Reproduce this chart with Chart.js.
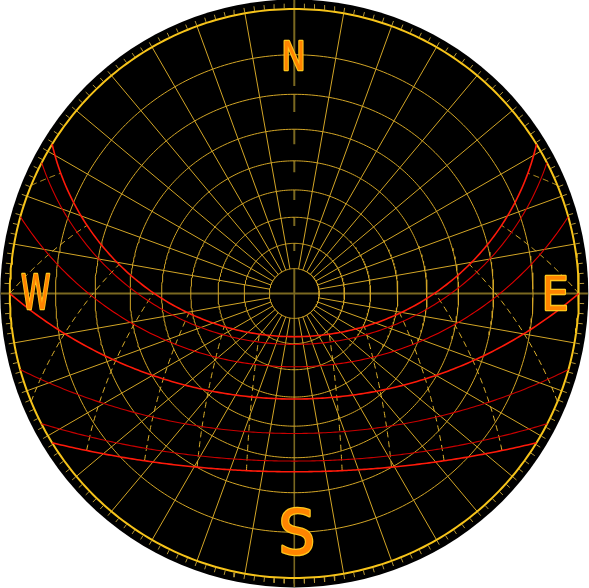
<!DOCTYPE html>
<html>
<head>
<meta charset="utf-8">
<title>Sun path diagram</title>
<script src="https://cdn.jsdelivr.net/npm/chart.js@4.4.1/dist/chart.umd.min.js"></script>
<style>
  html, body { margin: 0; padding: 0; background: #fff; }
  #wrap { width: 589px; height: 588px; }
</style>
</head>
<body>
<div id="wrap"><canvas id="sun" width="589" height="588"></canvas></div>
<script>
(() => {
    'use strict';

    // ===== Data =====
    const latitude       = 40.7;                                   // deg N
    const altitudeRings  = [80, 70, 60, 50, 40, 30, 20, 10];       // deg
    const azimuthSpokes  = [10, 20, 30, 40, 50, 60, 70, 80, 100, 110, 120, 130, 140, 150, 160, 170,
                            190, 200, 210, 220, 230, 240, 250, 260, 280, 290, 300, 310, 320, 330, 340, 350];
    const sunPathDecl    = [23.44, 20.4, 11.8, 0, -11.7, -20.3, -23.44];   // sun paths (declination)
    const hourAngles     = [-105, -90, -75, -60, -45, -30, -15, 15, 30, 45, 60, 75, 90, 105];
    const northDashAlt   = [[-1.8, 17.8], [20, 24.9], [30, 34.6], [40, 43.8], [50, 53.6], [60, 63.3], [70, 73], [80, 90]];
    const tickAzimuths   = Array.from({ length: 180 }, (_, i) => i * 2);
    const compassLabels  = ['N', 'E', 'S', 'W'];
    const compassAz      = [0, 90, 180, 270];

    // ===== Geometry (px units, y up) =====
    const R = 284.5;          // horizon radius
    const DISK_R = 294;       // black disk
    const EDGE_ALT = -1.8;    // altitude that reaches the disk edge
    const GAP = { x: NaN, y: NaN };

    const rad = (d) => d * Math.PI / 180;
    const deg = (r) => r * 180 / Math.PI;
    const polar = (r, az) => ({ x: r * Math.sin(rad(az)), y: r * Math.cos(rad(az)) });
    const proj = (alt, az) => polar(R * Math.tan(rad(90 - alt) / 2), az);   // stereographic

    function sunXY(dec, H) {
        const p = rad(latitude), d = rad(dec), h = rad(H);
        const e = -Math.cos(d) * Math.sin(h);
        const n = Math.cos(p) * Math.sin(d) - Math.sin(p) * Math.cos(d) * Math.cos(h);
        const u = Math.sin(p) * Math.sin(d) + Math.cos(p) * Math.cos(d) * Math.cos(h);
        return { x: R * e / (1 + u), y: R * n / (1 + u) };
    }

    function sunPath(dec) {
        const c = Math.max(-1, Math.min(1, -Math.tan(rad(latitude)) * Math.tan(rad(dec))));
        const H0 = deg(Math.acos(c));
        const pts = [];
        for (let i = 0; i <= 200; i++) pts.push(sunXY(dec, -H0 + 2 * H0 * i / 200));
        return pts;
    }

    function hourLine(H) {
        const dMin = Math.min(...sunPathDecl), dMax = Math.max(...sunPathDecl);
        const dHor = deg(Math.atan(-Math.cos(rad(H)) / Math.tan(rad(latitude))));
        const d0 = Math.max(dMin, dHor);
        const pts = [];
        for (let i = 0; i <= 80; i++) pts.push(sunXY(d0 + (dMax - d0) * i / 80, H));
        return pts;
    }

    const ring = (alt) => Array.from({ length: 361 }, (_, i) => proj(alt, i));

    // ===== Styles =====
    const GRID   = '#d2a526';
    const OLIVE  = '#7a6820';
    const HORIZ  = '#f7c41a';
    const TICK   = '#b39638';
    const HOURC  = '#e2b52c';
    const redStyle = [
        { c: '#ff1a0a', w: 1.6 }, { c: '#d40000', w: 1.1 }, { c: '#e00000', w: 1.1 },
        { c: '#ff1a0a', w: 1.6 }, { c: '#c80000', w: 1.1 }, { c: '#c80000', w: 1.1 },
        { c: '#ff1a0a', w: 1.6 }
    ];
    const labelStyle = {
        N: { r: 238.5, dx: -1.0, dy: 0,   h: 28, w: 18.5 },
        E: { r: 261.7, dx: 0,    dy: 0.3, h: 34, w: 21 },
        S: { r: 237.0, dx: 3.0,  dy: 0,   h: 47, w: 30 },
        W: { r: 258.6, dx: 0,    dy: 2.2, h: 35, w: 28 }
    };

    const line = (data, color, width, order, dash) => ({
        data, showLine: true, borderColor: color, borderWidth: width, borderDash: dash || [],
        pointRadius: 0, pointHoverRadius: 0, fill: false, tension: 0, spanGaps: false, order
    });

    // ===== Datasets =====
    const datasets = [];

    sunPathDecl.forEach((d, i) => datasets.push(line(sunPath(d), redStyle[i].c, redStyle[i].w, 1)));
    hourAngles.forEach(h => datasets.push(line(hourLine(h), HOURC, 1, 2, [6, 4])));

    datasets.push(line(ring(0), HORIZ, 2, 3));
    altitudeRings.forEach(a => datasets.push(line(ring(a), GRID, 1, 4)));

    const spokes = [];
    azimuthSpokes.forEach(az => spokes.push(proj(80, az), proj(0, az), GAP));
    datasets.push(line(spokes, GRID, 1, 4));

    datasets.push(line([proj(EDGE_ALT, 270), proj(EDGE_ALT, 90)], OLIVE, 2, 5));
    datasets.push(line([proj(90, 180), proj(EDGE_ALT, 180)], OLIVE, 1.6, 5));
    const north = [];
    northDashAlt.forEach(([a1, a2]) => north.push(proj(a1, 0), proj(a2, 0), GAP));
    datasets.push(line(north, OLIVE, 2, 5));

    const ticks = [];
    tickAzimuths.forEach(az => ticks.push(polar(R + 1, az), polar(R + 5.5, az), GAP));
    datasets.push(line(ticks, TICK, 1, 6));

    // ===== Plugins =====
    const diskPlugin = {
        id: 'disk',
        beforeDatasetsDraw(chart) {
            const { ctx, scales: { x, y } } = chart;
            const cx = x.getPixelForValue(0), cy = y.getPixelForValue(0);
            const pr = x.getPixelForValue(DISK_R) - cx;
            ctx.save();
            ctx.beginPath();
            ctx.arc(cx, cy, pr, 0, Math.PI * 2);
            ctx.fillStyle = '#000';
            ctx.fill();
            ctx.restore();
        }
    };

    const compassPlugin = {
        id: 'compass',
        afterDatasetsDraw(chart) {
            const { ctx, scales: { x, y } } = chart;
            compassLabels.forEach((t, i) => {
                const st = labelStyle[t];
                const p = polar(st.r, compassAz[i]);
                const px = x.getPixelForValue(p.x + st.dx);
                const py = y.getPixelForValue(p.y + st.dy);
                ctx.save();
                ctx.font = '100px "DejaVu Sans"';
                const m0 = ctx.measureText(t);
                const fs = 100 * st.h / (m0.actualBoundingBoxAscent + m0.actualBoundingBoxDescent);
                ctx.font = fs + 'px "DejaVu Sans"';
                const m = ctx.measureText(t);
                const sx = st.w / (m.actualBoundingBoxLeft + m.actualBoundingBoxRight);
                ctx.translate(px, py);
                ctx.scale(sx, 1);
                const ox = (m.actualBoundingBoxLeft - m.actualBoundingBoxRight) / 2;
                const oy = (m.actualBoundingBoxAscent - m.actualBoundingBoxDescent) / 2;
                ctx.textAlign = 'left';
                ctx.textBaseline = 'alphabetic';
                ctx.lineJoin = 'round';
                ctx.lineWidth = 2.6;
                ctx.strokeStyle = '#ffc61a';
                ctx.strokeText(t, ox, oy);
                ctx.fillStyle = '#ff8400';
                ctx.fillText(t, ox, oy);
                ctx.restore();
            });
        }
    };

    // ===== Chart =====
    new Chart(document.getElementById('sun').getContext('2d'), {
        type: 'scatter',
        data: { datasets },
        options: {
            responsive: false,
            animation: false,
            devicePixelRatio: 1,
            events: [],
            layout: { padding: 0 },
            plugins: { legend: { display: false }, tooltip: { enabled: false } },
            scales: {
                x: { type: 'linear', min: -294.3, max: 294.7, display: false },
                y: { type: 'linear', min: -294.5, max: 293.5, display: false }
            }
        },
        plugins: [diskPlugin, compassPlugin]
    });
})();
</script>
</body>
</html>
